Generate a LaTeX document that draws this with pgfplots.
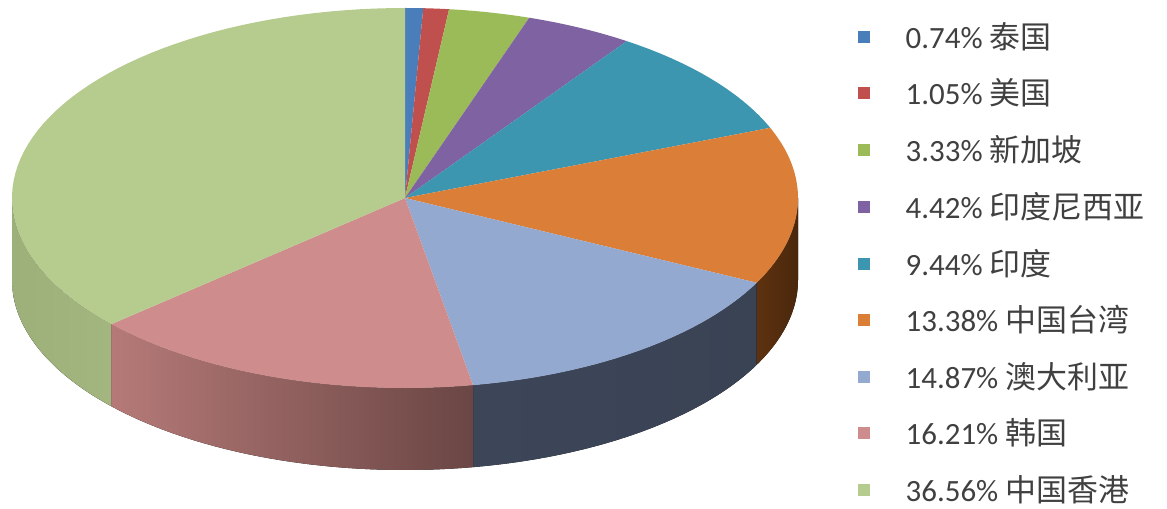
\documentclass[border=0pt]{standalone}
\usepackage{pgfplots}
\pgfplotsset{compat=1.18}
\usepackage{fontspec}
\setmainfont{Carlito}
\newfontfamily\cjk{Noto Sans CJK SC}
\definecolor{c1}{HTML}{4A7EBB}
\definecolor{c2}{HTML}{C0504D}
\definecolor{c3}{HTML}{9BBB59}
\definecolor{c4}{HTML}{7F62A1}
\definecolor{c5}{HTML}{3D96B0}
\definecolor{c6}{HTML}{DB7F38}
\definecolor{c7}{HTML}{93A9D0}
\definecolor{c8}{HTML}{CE8D8C}
\definecolor{c9}{HTML}{B6CB8E}
\definecolor{s6}{HTML}{5E3210}\definecolor{t6}{HTML}{4A270C}
\definecolor{s7}{HTML}{3D4659}\definecolor{t7}{HTML}{3A4354}
\definecolor{s8}{HTML}{B57A78}\definecolor{t8}{HTML}{6A4644}
\definecolor{s9}{HTML}{9DB07A}\definecolor{t9}{HTML}{A3B680}
\def\cx{405}\def\cy{198}\def\rx{393}\def\ry{190}\def\dd{82}
\newcommand\side[3]{%
  \pgfmathsetmacro\a{#1*3.6}\pgfmathsetmacro\b{#2*3.6}%
  \pgfmathsetmacro\s{max(\a,90)}\pgfmathsetmacro\e{min(\b,270)}%
  \edef\temp{\noexpand\fill[left color=s#3,right color=t#3] plot[domain=\s:\e,samples=40] ({\cx+\rx*sin(\noexpand\x)},{\cy-\ry*cos(\noexpand\x)}) -- plot[domain=\e:\s,samples=40] ({\cx+\rx*sin(\noexpand\x)},{\cy-\ry*cos(\noexpand\x)+\dd}) -- cycle;}\temp}
\newcommand\slice[3]{%
  \pgfmathsetmacro\a{#1*3.6}\pgfmathsetmacro\b{#2*3.6}%
  \edef\temp{\noexpand\fill[c#3] (\cx,\cy) -- plot[domain=\a:\b,samples=60] ({\cx+\rx*sin(\noexpand\x)},{\cy-\ry*cos(\noexpand\x)}) -- cycle;}\temp}
\newcommand\leg[3]{%
  \fill[c#2] (858,#1-6) rectangle (870,#1+6);
  \node[anchor=west,inner sep=0pt,text=black!75,font=\fontsize{8.8}{10}\selectfont] at (905,#1) {#3};}
\begin{document}
\begin{tikzpicture}
\begin{axis}[width=11.67cm,height=5.08cm,scale only axis,axis lines=none,
  xmin=0,xmax=1167,ymin=0,ymax=508,y dir=reverse,clip=false]
\path (0,0) rectangle (1167,508);
\side{18.98}{32.36}{6}
\side{32.36}{47.23}{7}
\side{47.23}{63.44}{8}
\side{63.44}{100}{9}
\slice{0}{0.74}{1}
\slice{0.74}{1.79}{2}
\slice{1.79}{5.12}{3}
\slice{5.12}{9.54}{4}
\slice{9.54}{18.98}{5}
\slice{18.98}{32.36}{6}
\slice{32.36}{47.23}{7}
\slice{47.23}{63.44}{8}
\slice{63.44}{100}{9}
\leg{37}{1}{0.74\% {\cjk 泰国}}
\leg{93}{2}{1.05\% {\cjk 美国}}
\leg{150}{3}{3.33\% {\cjk 新加坡}}
\leg{207}{4}{4.42\% {\cjk 印度尼西亚}}
\leg{264}{5}{9.44\% {\cjk 印度}}
\leg{320}{6}{13.38\% {\cjk 中国台湾}}
\leg{377}{7}{14.87\% {\cjk 澳大利亚}}
\leg{433}{8}{16.21\% {\cjk 韩国}}
\leg{490}{9}{36.56\% {\cjk 中国香港}}
\end{axis}
\end{tikzpicture}
\end{document}
